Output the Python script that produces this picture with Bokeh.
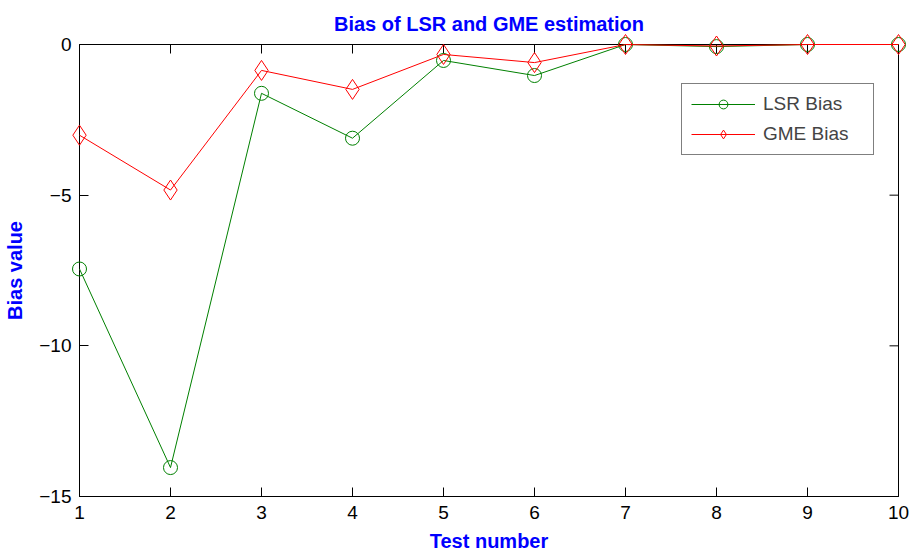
import math
from bokeh.plotting import figure
from bokeh.models import Legend, LegendItem, FixedTicker, Range1d
from bokeh.embed import file_html
from bokeh.resources import INLINE

tests = [1, 2, 3, 4, 5, 6, 7, 8, 9, 10]
lsr_bias = [-7.45, -14.04, -1.62, -3.11, -0.53, -1.03, 0.0, -0.07, 0.0, 0.0]
gme_bias = [-3.01, -4.83, -0.86, -1.49, -0.33, -0.60, 0.0, -0.05, 0.0, 0.0]
x_ticks = [1, 2, 3, 4, 5, 6, 7, 8, 9, 10]
y_ticks = [-15, -10, -5, 0]

FONT = "Liberation Sans"
BLUE = "#0000ff"
TICK = 9

p = figure(width=909, height=554, output_backend="svg", toolbar_location=None,
           x_range=Range1d(1, 10), y_range=Range1d(-15, 0),
           min_border_left=79, min_border_right=11, min_border_top=44, min_border_bottom=57)

p.title.text = "Bias of LSR and GME estimation"
p.title.align = "center"
p.title.text_color = BLUE
p.title.text_font = FONT
p.title.text_font_size = "20px"
p.title.text_font_style = "bold"
p.title.standoff = 20

p.grid.visible = False
p.outline_line_color = "black"
p.outline_line_width = 1

for ax in (p.xaxis[0], p.yaxis[0]):
    ax.axis_line_color = "black"
    ax.major_tick_in = TICK
    ax.major_tick_out = 0
    ax.minor_tick_line_color = None
    ax.major_tick_line_color = "black"
    ax.major_label_text_font = FONT
    ax.major_label_text_font_size = "19px"
    ax.major_label_text_color = "black"
    ax.axis_label_text_font = FONT
    ax.axis_label_text_font_size = "20px"
    ax.axis_label_text_font_style = "bold"
    ax.axis_label_text_color = BLUE

p.xaxis.ticker = FixedTicker(ticks=x_ticks)
p.yaxis.ticker = FixedTicker(ticks=y_ticks)
p.xaxis.axis_label = "Test number"
p.yaxis.axis_label = "Bias value"
p.xaxis.major_label_standoff = 9
p.yaxis.major_label_standoff = 8
p.xaxis.axis_label_standoff = 8
p.yaxis.axis_label_standoff = 10

# inward ticks on the top and right edges of the box (clipped to the frame)
p.scatter(x_ticks, [p.y_range.end] * len(x_ticks), marker="dash", angle=math.pi / 2,
          size=2 * TICK, line_color="black", line_width=1)
p.scatter([p.x_range.end] * len(y_ticks), y_ticks, marker="dash", angle=0,
          size=2 * TICK, line_color="black", line_width=1)

l1 = p.line(tests, lsr_bias, line_color="#008000", line_width=1, level="overlay")
m1 = p.scatter(tests, lsr_bias, marker="circle", size=14, fill_color=None,
               line_color="#008000", line_width=1, level="overlay")
l2 = p.line(tests, gme_bias, line_color="#ff0000", line_width=1, level="overlay")
m2 = p.scatter(tests, gme_bias, marker="diamond", size=20, fill_color=None,
               line_color="#ff0000", line_width=1, level="overlay")

legend = Legend(items=[LegendItem(label="LSR Bias", renderers=[l1, m1]),
                       LegendItem(label="GME Bias", renderers=[l2, m2])],
                location=(602, 341))
legend.label_text_font = FONT
legend.label_text_font_size = "19px"
legend.glyph_width = 64
legend.glyph_height = 22
legend.spacing = 8
legend.padding = 9
legend.margin = 0
legend.label_width = 101
legend.border_line_color = "black"
legend.border_line_width = 1
legend.label_standoff = 8
p.add_layout(legend, "center")

open("out.html", "w").write(file_html(p, INLINE))
